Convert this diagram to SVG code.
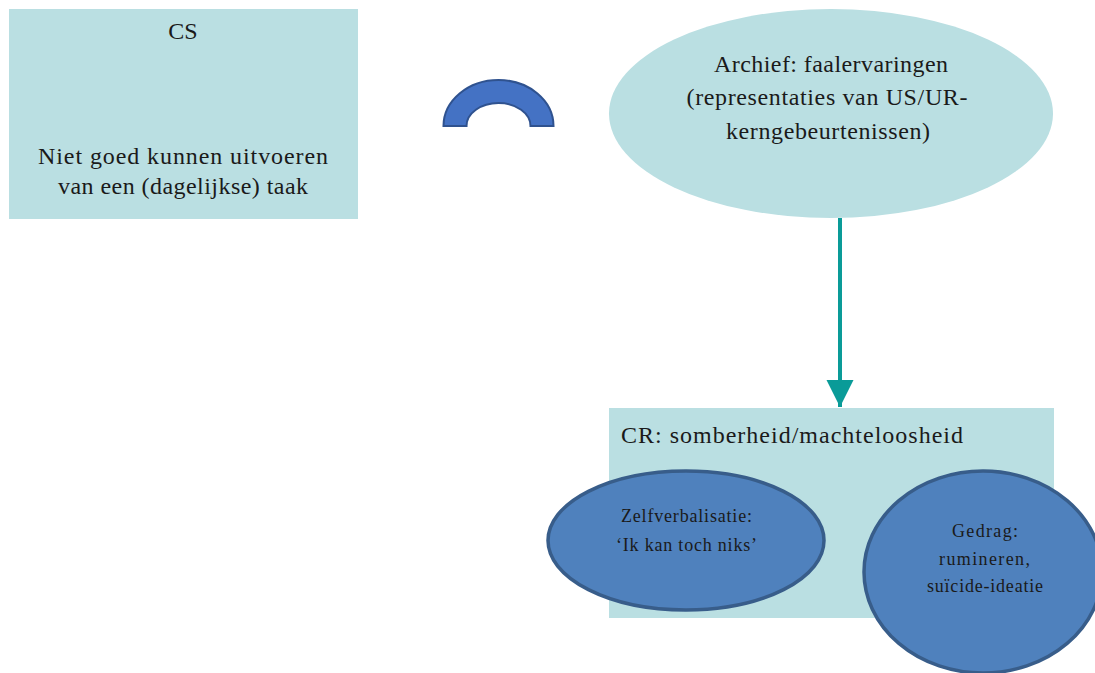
<svg xmlns="http://www.w3.org/2000/svg" width="1095" height="673" viewBox="0 0 1095 673">
  <defs>
    <style>
      .pale { fill: #BADFE2; stroke: none; }
      .blob { fill: #4F81BD; stroke: #385D8A; stroke-width: 3.5; }
      .txt { font-family: "Liberation Serif", "DejaVu Serif", serif; fill: #1a1a1a; text-anchor: middle; }
      .big { font-size: 24px; }
      .small { font-size: 18px; }
      .link { stroke: #0A9B98; stroke-width: 4; fill: none; }
    </style>
    <marker id="tip" viewBox="0 0 10 10" refX="10" refY="5" markerWidth="6.8" markerHeight="6.8" markerUnits="strokeWidth" orient="auto">
      <path d="M0,0 L10,5 L0,10 Z" fill="#0A9B98"/>
    </marker>
  </defs>

  <!-- Conditioned stimulus box -->
  <g id="cs">
    <rect class="pale" x="9" y="9" width="349" height="210"/>
    <text class="txt big" x="183" y="39">CS</text>
    <text class="txt big" x="183" y="164" textLength="290" lengthAdjust="spacing">Niet goed kunnen uitvoeren</text>
    <text class="txt big" x="183" y="194" textLength="250" lengthAdjust="spacing">van een (dagelijkse) taak</text>
  </g>

  <!-- Blocked-arc symbol -->
  <g id="block">
    <path d="M443.5,126 A55,46 0 0 1 553.5,126 L530.5,126 A32,23 0 0 0 466.5,126 Z" fill="#4472C4" stroke="#2F528F" stroke-width="2"/>
  </g>

  <!-- Archive of failure experiences -->
  <g id="archief">
    <ellipse class="pale" cx="831" cy="113.5" rx="222" ry="104.5"/>
    <text class="txt big" x="831" y="72" textLength="234" lengthAdjust="spacing">Archief: faalervaringen</text>
    <text class="txt big" x="827" y="105" textLength="281" lengthAdjust="spacing">(representaties van US/UR-</text>
    <text class="txt big" x="828" y="139" textLength="204" lengthAdjust="spacing">kerngebeurtenissen)</text>
  </g>

  <!-- Connectors -->
  <g id="connectors">
    <line class="link" x1="840" y1="218" x2="840" y2="407" marker-end="url(#tip)"/>
  </g>

  <!-- Conditioned response box -->
  <g id="cr">
    <rect class="pale" x="609" y="408" width="445" height="210"/>
    <text class="txt big" x="621" y="443" style="text-anchor:start" textLength="342" lengthAdjust="spacing">CR: somberheid/machteloosheid</text>
  </g>

  <g id="zelfverbalisatie">
    <ellipse class="blob" cx="686" cy="540.5" rx="138" ry="69.5"/>
    <text class="txt small" x="686.5" y="522" textLength="131" lengthAdjust="spacing">Zelfverbalisatie:</text>
    <text class="txt small" x="686.5" y="551" textLength="141" lengthAdjust="spacing">‘Ik kan toch niks’</text>
  </g>

  <g id="gedrag">
    <ellipse class="blob" cx="983" cy="572" rx="119" ry="101"/>
    <text class="txt small" x="985" y="537" textLength="66" lengthAdjust="spacing">Gedrag:</text>
    <text class="txt small" x="984.5" y="565" textLength="91" lengthAdjust="spacing">rumineren,</text>
    <text class="txt small" x="985" y="592" textLength="116" lengthAdjust="spacing">suïcide-ideatie</text>
  </g>
</svg>
